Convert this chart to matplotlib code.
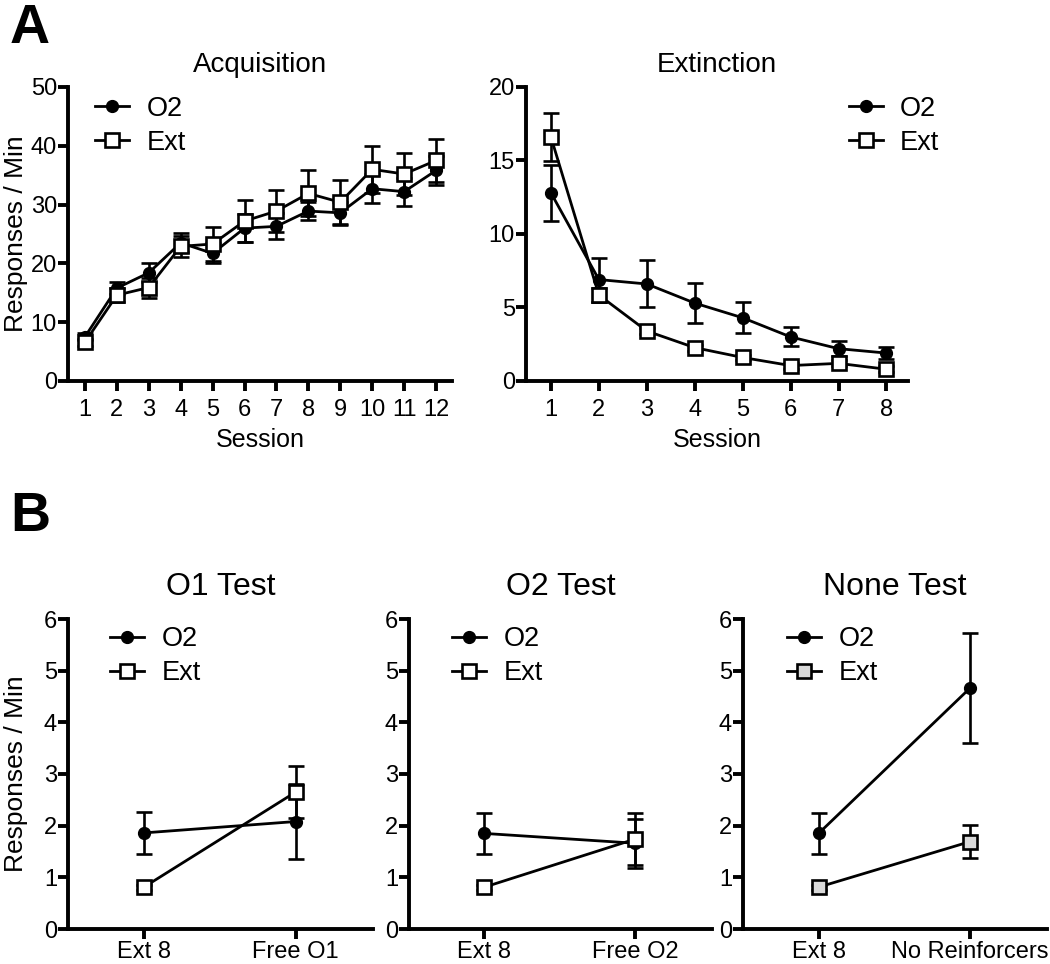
import numpy as np
import matplotlib
matplotlib.use("Agg")
import matplotlib.pyplot as plt
from matplotlib.lines import Line2D

plt.rcParams["font.family"] = ["Liberation Sans", "DejaVu Sans"]

# Acquisition data
acq_sessions = np.arange(1, 13)
acq_o2 = [7.5, 15.8, 18.4, 23.5, 21.7, 26.0, 26.3, 28.9, 28.6, 32.7, 32.2, 35.8]
acq_o2_err = [0.6, 1.0, 1.6, 1.6, 1.7, 2.4, 2.2, 1.6, 1.9, 2.5, 2.4, 2.5]
acq_ext = [6.6, 14.6, 15.9, 22.9, 23.3, 27.2, 28.9, 31.9, 30.4, 36.0, 35.2, 37.5]
acq_ext_err = [0.6, 1.2, 1.7, 1.8, 2.9, 3.6, 3.6, 3.9, 3.8, 4.0, 3.6, 3.7]

# Extinction data
ext_sessions = np.arange(1, 9)
ext_o2 = [12.8, 6.9, 6.6, 5.3, 4.3, 3.0, 2.2, 1.9]
ext_o2_err = [1.9, 1.5, 1.6, 1.35, 1.05, 0.65, 0.5, 0.4]
ext_ext = [16.6, 5.85, 3.4, 2.27, 1.6, 1.05, 1.2, 0.8]
ext_ext_err = [1.65, 0.5, 0.2, 0.2, 0.2, 0.2, 0.2, 0.2]

# Test data
test_titles = ["O1 Test", "O2 Test", "None Test"]
test_labels = [["Ext 8", "Free O1"], ["Ext 8", "Free O2"], ["Ext 8", "No Reinforcers"]]
test_o2 = [[1.86, 2.08], [1.85, 1.66], [1.85, 4.66]]
test_o2_err = [[0.4, 0.72], [0.4, 0.47], [0.4, 1.06]]
test_ext = [[0.81, 2.65], [0.81, 1.74], [0.81, 1.69]]
test_ext_err = [[0.05, 0.5], [0.05, 0.5], [0.05, 0.32]]
test_ext_fill = ["white", "white", "#d9d9d9"]

W, H = 1050, 964
fig = plt.figure(figsize=(W / 100, H / 100), dpi=100)


def px_axes(left, top, right, bottom):
    return fig.add_axes([left / W, 1 - bottom / H, (right - left) / W, (bottom - top) / H])


def style(ax, xpad):
    for s in ["top", "right"]:
        ax.spines[s].set_visible(False)
    for s in ["left", "bottom"]:
        ax.spines[s].set_linewidth(2.8)
    ax.tick_params(width=2.8, length=7, labelsize=17, direction="out")
    ax.tick_params(axis="y", pad=1)
    ax.tick_params(axis="x", pad=xpad)


def draw(ax, x, o2, o2e, ext, exte, fill="white"):
    ax.errorbar(x, o2, yerr=o2e, color="black", lw=2, marker="o", ms=8.5,
                mfc="black", mec="black", elinewidth=1.9, capsize=6, capthick=1.9,
                clip_on=False, zorder=3)
    ax.errorbar(x, ext, yerr=exte, color="black", lw=2, marker="s", ms=10,
                mfc=fill, mec="black", mew=1.9, elinewidth=1.9, capsize=6,
                capthick=1.9, clip_on=False, zorder=4)


def legend(ax, x, y, fill="white"):
    h = [Line2D([], [], color="black", lw=2, marker="o", ms=8.5, mfc="black"),
         Line2D([], [], color="black", lw=2, marker="s", ms=10, mfc=fill, mew=1.9)]
    ax.legend(h, ["O2", "Ext"], loc="upper left", bbox_to_anchor=(x, y),
              frameon=False, fontsize=19.5, handlelength=1.25, handletextpad=0.65,
              labelspacing=0.3, borderaxespad=0, borderpad=0)


# Panel A - Acquisition
ax1 = px_axes(68, 87, 452, 381)
draw(ax1, acq_sessions, acq_o2, acq_o2_err, acq_ext, acq_ext_err)
ax1.set_xlim(0.47, 12.5)
ax1.set_ylim(0, 50)
ax1.set_xticks(acq_sessions)
ax1.set_yticks(range(0, 51, 10))
style(ax1, 6)
ax1.set_title("Acquisition", fontsize=20, pad=11)
ax1.set_xlabel("Session", fontsize=18, labelpad=5)
ax1.set_ylabel("Responses / Min", fontsize=19)
ax1.yaxis.set_label_coords((28 - 68) / 384, 0.5)
legend(ax1, 0.07, 0.97)

# Panel A - Extinction
ax2 = px_axes(526, 87, 908, 381)
draw(ax2, ext_sessions, ext_o2, ext_o2_err, ext_ext, ext_ext_err)
ax2.set_xlim(0.48, 8.45)
ax2.set_ylim(0, 20)
ax2.set_xticks(ext_sessions)
ax2.set_yticks(range(0, 21, 5))
style(ax2, 6)
ax2.set_title("Extinction", fontsize=20, pad=11)
ax2.set_xlabel("Session", fontsize=18, labelpad=5)
legend(ax2, 0.845, 0.97)

# Panel B - tests
bounds = [(68, 373), (409, 712), (743, 1047)]
leg_x = [0.138, 0.142, 0.145]
for i, (l, r) in enumerate(bounds):
    ax = px_axes(l, 619, r, 929)
    draw(ax, [0, 1], test_o2[i], test_o2_err[i], test_ext[i], test_ext_err[i],
         fill=test_ext_fill[i])
    ax.set_xlim(-0.5, 1.51)
    ax.set_ylim(0, 6)
    ax.set_xticks([0, 1])
    ax.set_xticklabels(test_labels[i])
    ax.set_yticks(range(0, 7))
    style(ax, 1.5)
    ax.set_title(test_titles[i], fontsize=23, pad=17)
    if i == 0:
        ax.set_ylabel("Responses / Min", fontsize=19)
        ax.yaxis.set_label_coords((28 - 68) / 305, 0.5)
    legend(ax, leg_x[i], 0.977, fill=test_ext_fill[i])

fig.text(10 / W, 1 - 3 / H, "A", fontsize=40, fontweight="bold", va="top", ha="left")
fig.text(10 / W, 1 - 491 / H, "B", fontsize=40, fontweight="bold", va="top", ha="left")

fig.savefig("out.png", dpi=100)
